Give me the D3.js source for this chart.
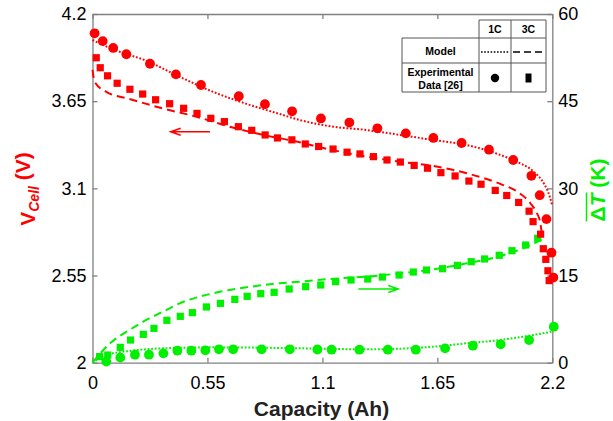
<!DOCTYPE html>
<html><head><meta charset="utf-8">
<script src="https://cdn.jsdelivr.net/npm/d3@7"></script>
<style>body{margin:0;background:#fff}svg{display:block;font-family:Arial,"Liberation Sans",sans-serif}</style>
</head><body><svg id="c" width="613" height="421"></svg>
<script>
const xTicks=[0,0.55,1.1,1.65,2.2];
const vTicks=[2,2.55,3.1,3.65,4.2];
const tTicks=[0,15,30,45,60];
const legendCols=["1C","3C"];
const legendRows=["Model","Experimental|Data [26]"];

// Cell voltage (V) vs capacity (Ah)
const exp1C_V=[[0.01,4.078],[0.049,4.029],[0.099,3.986],[0.162,3.946],[0.275,3.886],[0.399,3.819],[0.519,3.752],[0.700,3.681],[0.825,3.631],[0.955,3.586],[1.093,3.541],[1.229,3.515],[1.363,3.479],[1.499,3.447],[1.631,3.418],[1.766,3.386],[1.897,3.344],[2.013,3.279],[2.100,3.179],[2.140,3.057],[2.172,2.906],[2.196,2.694],[2.205,2.537]];
const exp3C_V=[[0.018,3.924],[0.037,3.861],[0.072,3.810],[0.118,3.763],[0.179,3.725],[0.240,3.695],[0.302,3.659],[0.369,3.634],[0.436,3.605],[0.500,3.573],[0.566,3.542],[0.631,3.521],[0.698,3.489],[0.762,3.466],[0.826,3.437],[0.885,3.418],[0.954,3.406],[1.018,3.380],[1.082,3.364],[1.151,3.348],[1.218,3.328],[1.280,3.317],[1.344,3.300],[1.409,3.279],[1.473,3.266],[1.539,3.245],[1.603,3.227],[1.667,3.199],[1.735,3.178],[1.801,3.146],[1.859,3.126],[1.927,3.087],[1.982,3.055],[2.039,3.011],[2.089,2.956],[2.108,2.890],[2.144,2.811],[2.157,2.719],[2.169,2.652],[2.179,2.580],[2.185,2.518]];
const model1C_V=[[0,4.036],[0.097,3.978],[0.257,3.905],[0.417,3.804],[0.577,3.709],[0.737,3.633],[0.896,3.569],[0.992,3.531],[1.152,3.489],[1.312,3.468],[1.472,3.437],[1.631,3.405],[1.791,3.373],[1.951,3.311],[2.031,3.268],[2.111,3.205],[2.159,3.132],[2.188,3.047],[2.2,2.989]];
const model3C_V=[[0,3.847],[0.01,3.773],[0.066,3.709],[0.177,3.664],[0.337,3.604],[0.497,3.552],[0.657,3.489],[0.817,3.437],[0.976,3.395],[1.133,3.346],[1.312,3.300],[1.472,3.268],[1.631,3.241],[1.791,3.195],[1.951,3.128],[2.031,3.080],[2.095,3.006],[2.127,2.942],[2.14,2.898],[2.15,2.817]];

// Mean temperature rise (K) vs capacity (Ah)
const exp1C_T=[[0.066,0.18],[0.133,0.87],[0.203,1.38],[0.270,1.38],[0.339,1.61],[0.406,2.07],[0.473,2.07],[0.540,2.13],[0.605,2.30],[0.673,2.30],[0.809,2.30],[0.944,2.30],[1.076,2.27],[1.144,2.24],[1.277,2.24],[1.413,2.24],[1.547,2.24],[1.687,2.47],[1.820,2.93],[1.953,3.16],[2.089,3.90],[2.207,6.20]];
const exp3C_T=[[0.034,1.04],[0.073,1.32],[0.133,2.64],[0.182,3.90],[0.243,4.88],[0.294,5.91],[0.356,7.29],[0.420,7.98],[0.478,8.61],[0.545,9.59],[0.612,10.21],[0.681,10.90],[0.740,11.42],[0.805,11.88],[0.869,12.11],[0.941,12.68],[1.020,13.08],[1.092,13.37],[1.163,13.94],[1.237,14.23],[1.317,14.40],[1.387,14.74],[1.467,15.09],[1.535,15.60],[1.598,15.95],[1.675,16.17],[1.746,16.75],[1.812,17.38],[1.876,17.85],[1.946,18.48],[2.007,19.27],[2.072,20.25],[2.130,21.41]];
const model1C_T=[[0,0],[0.066,1.32],[0.177,2.02],[0.337,2.47],[0.577,2.64],[0.993,2.48],[1.312,2.3],[1.631,2.75],[1.79,3.34],[1.95,3.9],[2.109,4.77],[2.197,5.33]];
const model3C_T=[[0,0],[0.084,3.34],[0.177,5.63],[0.257,7.35],[0.337,8.78],[0.417,10.21],[0.577,11.94],[0.737,12.97],[0.896,13.67],[0.992,13.94],[1.133,14.40],[1.312,14.81],[1.472,15.38],[1.631,16.07],[1.791,17.10],[1.951,18.36],[2.079,19.96],[2.167,21.5]];

// arrow annotations: [x from, x to, y]
const arrowV=[0.562,0.374,3.457];
const arrowT=[1.272,1.463,12.68];

const RED="#ff0000", GREEN="#00f000", AX="#808080";
const L=92.5,R=552.3,T=14,B=362.7;
const svg=d3.select("#c");
const x=d3.scaleLinear().domain([0,2.2]).range([L,R]);
const yV=d3.scaleLinear().domain([2,4.2]).range([B,T]);
const yT=d3.scaleLinear().domain([0,60]).range([B,T]);

function styleAxis(g){
  g.selectAll("path,line").attr("stroke",AX).attr("stroke-width",1.3);
  g.selectAll("text").attr("fill","#000").style("font-size","18px").style("font-family","Arial, 'Liberation Sans', sans-serif");
}
svg.append("g").attr("transform",`translate(0,${B})`).call(d3.axisBottom(x).tickValues(xTicks).tickFormat(d3.format("")).tickSize(-5).tickSizeOuter(0).tickPadding(14)).call(styleAxis);
svg.append("g").attr("transform",`translate(0,${T})`).call(d3.axisTop(x).tickValues(xTicks).tickFormat("").tickSize(-5).tickSizeOuter(0)).call(styleAxis);
svg.append("g").attr("transform",`translate(${L},0)`).call(d3.axisLeft(yV).tickValues(vTicks).tickFormat(d3.format("")).tickSize(-5).tickSizeOuter(0).tickPadding(6)).call(styleAxis);
svg.append("g").attr("transform",`translate(${R},0)`).call(d3.axisRight(yT).tickValues(tTicks).tickFormat(d3.format("")).tickSize(-5).tickSizeOuter(0).tickPadding(6)).call(styleAxis);

const lineV=d3.line().x(d=>x(d[0])).y(d=>yV(d[1])).curve(d3.curveMonotoneX);
const lineT=d3.line().x(d=>x(d[0])).y(d=>yT(d[1])).curve(d3.curveMonotoneX);
const DOT="1.8,1.8", DASH="8,5";
function drawLine(data,gen,color,dash){
  svg.append("path").datum(data).attr("d",gen).attr("fill","none").attr("stroke",color).attr("stroke-width",2).attr("stroke-dasharray",dash);
}
drawLine(model1C_V,lineV,RED,DOT);
drawLine(model3C_V,lineV,RED,DASH);
drawLine(model1C_T,lineT,GREEN,DOT);
drawLine(model3C_T,lineT,GREEN,DASH);

function circles(data,ys,color){
  svg.append("g").selectAll("circle").data(data).join("circle")
    .attr("cx",d=>x(d[0])).attr("cy",d=>ys(d[1])).attr("r",4.9).attr("fill",color);
}
function squares(data,ys,color){
  const s=7.2;
  svg.append("g").selectAll("rect").data(data).join("rect")
    .attr("x",d=>x(d[0])-s/2).attr("y",d=>ys(d[1])-s/2).attr("width",s).attr("height",s).attr("fill",color);
}
squares(exp3C_T,yT,GREEN);
circles(exp1C_T,yT,GREEN);
squares(exp3C_V,yV,RED);
circles(exp1C_V,yV,RED);

function arrow(a,ys,color){
  const x0=x(a[0]),x1=x(a[1]),y=ys(a[2]);
  const dir=Math.sign(x1-x0);
  svg.append("path").attr("d",`M${x0},${y}L${x1},${y}M${x1-dir*10},${y-3.5}L${x1},${y}L${x1-dir*10},${y+3.5}`)
    .attr("fill","none").attr("stroke",color).attr("stroke-width",1.5);
}
arrow(arrowV,yV,RED);
arrow(arrowT,yT,GREEN);

// Legend table
const lg=svg.append("g");
const cx=[402,479,511,546], ry=[20,38,63,92];
const bc="#555";
lg.append("path").attr("d",
  `M${cx[1]},${ry[0]}H${cx[3]}V${ry[3]}H${cx[0]}V${ry[1]}H${cx[3]}M${cx[0]},${ry[2]}H${cx[3]}M${cx[1]},${ry[0]}V${ry[3]}M${cx[2]},${ry[0]}V${ry[3]}`)
  .attr("fill","none").attr("stroke",bc).attr("stroke-width",1);
legendCols.forEach((c,i)=>{
  lg.append("text").attr("x",(cx[i+1]+cx[i+2])/2).attr("y",33).attr("text-anchor","middle")
    .style("font-size","10.5px").style("font-weight","bold").text(c);
});
lg.append("text").attr("x",(cx[0]+cx[1])/2).attr("y",55).attr("text-anchor","middle")
  .style("font-size","10.5px").style("font-weight","bold").text(legendRows[0]);
legendRows[1].split("|").forEach((t,i)=>{
  lg.append("text").attr("x",(cx[0]+cx[1])/2).attr("y",76+i*13).attr("text-anchor","middle")
    .style("font-size","10.5px").style("font-weight","bold").text(t);
});
lg.append("line").attr("x1",481).attr("x2",509).attr("y1",52).attr("y2",52).attr("stroke","#000").attr("stroke-width",1.6).attr("stroke-dasharray","1.6,1.6");
lg.append("line").attr("x1",513).attr("x2",546).attr("y1",52).attr("y2",52).attr("stroke","#000").attr("stroke-width",1.6).attr("stroke-dasharray","7,4");
lg.append("circle").attr("cx",495).attr("cy",78).attr("r",4.2).attr("fill","#000");
lg.append("rect").attr("x",525.5).attr("y",73.5).attr("width",6).attr("height",9).attr("fill","#000");

// Axis titles
svg.append("text").attr("x",321.5).attr("y",416).attr("text-anchor","middle")
  .style("font-size","21px").style("font-weight","bold").attr("fill","#222").text("Capacity (Ah)");

const lt=svg.append("text").attr("transform","translate(35,189) rotate(-90)").attr("text-anchor","middle")
  .style("font-size","21px").style("font-weight","bold").attr("fill",RED);
lt.append("tspan").text("V");
lt.append("tspan").attr("dy","0.3em").style("font-size","14px").style("font-style","italic").text("Cell");
lt.append("tspan").attr("dy","-0.45em").text(" (V)");

const rg=svg.append("g").attr("transform","translate(605,190) rotate(-90)");
const rt=rg.append("text").attr("text-anchor","middle")
  .style("font-size","21px").style("font-weight","bold").attr("fill",GREEN);
rt.append("tspan").text("Δ");
rt.append("tspan").style("font-style","italic").text("T");
rt.append("tspan").text(" (K)");
const node=rt.node();
const total=node.getComputedTextLength();
const sub=node.getSubStringLength(0,2);
rg.append("line").attr("x1",-total/2).attr("x2",-total/2+sub+1).attr("y1",-18.5).attr("y2",-18.5)
  .attr("stroke",GREEN).attr("stroke-width",1.5);
</script></body></html>
